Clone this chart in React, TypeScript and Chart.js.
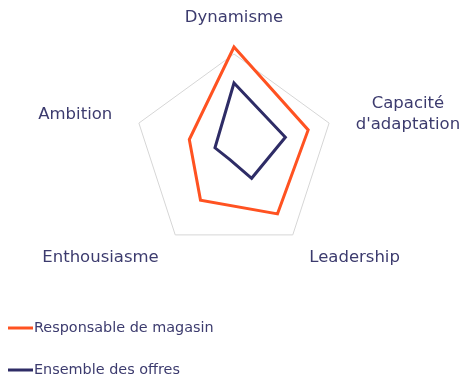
import React, { useEffect, useRef } from "react";
import { Chart, registerables } from "chart.js";

Chart.register(...registerables);

const categories: (string | string[])[] = [
  "Dynamisme",
  ["Capacité", "d'adaptation"],
  "Leadership",
  "Enthousiasme",
  "Ambition",
];
const responsableValues = [107, 78, 74, 57, 47];
const ensembleValues = [71, 54, 30, 7, 20];
const seriesNames = ["Responsable de magasin", "Ensemble des offres"];
const scaleMax = 100;

const ORANGE = "#FF5221";
const NAVY = "#2E2C66";
const TEXT = "#3C3B6E";
const GRID = "#D6D6D6";
const FONT = '"DejaVu Sans", sans-serif';

const labelPlugin = {
  id: "customLabels",
  afterDraw(chart: any) {
    const scale = chart.scales.r;
    const ctx = chart.ctx;
    ctx.save();
    ctx.fillStyle = TEXT;
    ctx.font = `16.5px ${FONT}`;
    ctx.textBaseline = "middle";
    ctx.textAlign = "center";
    const lh = 21;
    const labels = chart.data.labels as (string | string[])[];
    labels.forEach((lbl, i) => {
      const lines = Array.isArray(lbl) ? lbl : [lbl];
      const p = scale.getPointPosition(i, scale.drawingArea + 28);
      const w = Math.max(...lines.map((t) => ctx.measureText(t).width));
      let deg = Math.round((scale.getIndexAngle(i) * 180) / Math.PI) % 360;
      let cx = p.x;
      let cy = p.y;
      if (deg === 0) {
        cy = p.y - 8.5;
      } else if (deg === 180) {
        cy = p.y + 8.5;
      } else if (deg < 180) {
        cx = p.x + w / 2;
      } else {
        cx = p.x - w / 2;
      }
      lines.forEach((t, j) => {
        ctx.fillText(t, cx, cy - ((lines.length - 1) * lh) / 2 + j * lh);
      });
    });

    // legend
    ctx.textAlign = "left";
    ctx.font = `14.4px ${FONT}`;
    const rows = [328, 370];
    chart.data.datasets.forEach((ds: any, i: number) => {
      const y = rows[i];
      ctx.strokeStyle = ds.borderColor;
      ctx.lineWidth = 3;
      ctx.beginPath();
      ctx.moveTo(8, y);
      ctx.lineTo(33, y);
      ctx.stroke();
      ctx.fillStyle = TEXT;
      ctx.fillText(ds.label, 34, y);
    });
    ctx.restore();
  },
};

export default function App() {
  const ref = useRef<HTMLCanvasElement>(null);
  useEffect(() => {
    if (!ref.current) return;
    const chart = new Chart(ref.current, {
      type: "radar",
      data: {
        labels: categories as any,
        datasets: [
          {
            label: seriesNames[0],
            data: responsableValues,
            borderColor: ORANGE,
            backgroundColor: "transparent",
            borderWidth: 3,
            pointRadius: 0,
            fill: false,
            borderJoinStyle: "miter",
            clip: false as any,
          },
          {
            label: seriesNames[1],
            data: ensembleValues,
            borderColor: NAVY,
            backgroundColor: "transparent",
            borderWidth: 3,
            pointRadius: 0,
            fill: false,
            borderJoinStyle: "miter",
            clip: false as any,
          },
        ],
      },
      options: {
        animation: false,
        responsive: true,
        maintainAspectRatio: false,
        layout: { padding: { left: 134, right: 135, top: 54, bottom: 122 } },
        plugins: {
          legend: { display: false },
          tooltip: { enabled: false },
        },
        scales: {
          r: {
            min: 0,
            max: scaleMax,
            ticks: { display: false, stepSize: scaleMax },
            grid: { color: GRID, lineWidth: 1 },
            angleLines: { display: false },
            pointLabels: { display: false },
          },
        },
      },
      plugins: [labelPlugin],
    });
    return () => chart.destroy();
  }, []);
  return (
    <div style={{ position: "fixed", left: 0, top: 0, width: 469, height: 376, background: "#fff" }}>
      <canvas ref={ref} />
    </div>
  );
}
